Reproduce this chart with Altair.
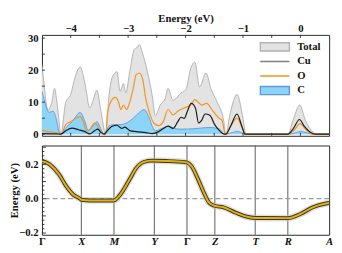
import altair as alt
import pandas as pd

FONT = "Liberation Serif"

# ---------------- DOS data (energy in eV, DOS in states/eV) ----------------
series_names = ["Total", "Cu", "O", "C"]

total_E = [-4.50, -4.465, -4.43, -4.39, -4.33, -4.28, -4.247, -4.214, -4.17,
           -4.085, -4.00, -3.918, -3.834, -3.751, -3.667, -3.612, -3.545, -3.473, -3.39,
           -3.333, -3.278, -3.194, -3.139, -3.082, -3.039, -2.972, -2.888, -2.848, -2.804,
           -2.747, -2.664, -2.58, -2.525, -2.441, -2.358, -2.303, -2.219, -2.079, -1.995,
           -1.911, -1.839, -1.756, -1.644, -1.56, -1.45, -1.338, -1.299,
           -1.226, -1.104, -1.003, -0.948,
           -0.222, -0.112, -0.012, 0.084, 0.222, 0.279, 0.50]
total_v = [21.5, 16, 10, 7.5, 10, 14.3, 11, 6, 0,
           10, 12.4, 18.1, 21, 15.8, 8.2, 10.5, 13.7, 7.2, 0,
           12, 17.7, 19.5, 13.4, 15.8, 12.9, 19.5, 26.6, 27, 27.9,
           25.2, 19.5, 12, 5.8, 9.1, 11, 14.3, 10.6, 12.9, 13.9,
           20.5, 22.5, 14.8, 19.1, 14.3, 10, 4.4, 0,
           6.3, 12.4, 5.3, 0,
           0, 5.3, 9.1, 4.4, 0.6, 0, 0]

cu_E = [-4.50, -4.25, -4.17,
        -4.085, -3.975, -3.863, -3.751, -3.667, -3.584, -3.528, -3.473, -3.416,
        -3.361, -3.278, -3.194, -3.11, -3.055, -2.972, -2.86, -2.692, -2.58, -2.47,
        -2.386, -2.303, -2.219, -2.135, -2.079, -2.023, -1.968, -1.901, -1.828, -1.773,
        -1.717, -1.661, -1.577, -1.493, -1.41, -1.326,
        -1.299, -1.216, -1.104, -1.02, -0.965,
        -0.222, -0.129, -0.017, 0.067, 0.179, 0.263, 0.50]
cu_v = [0.2, 0.1, 0,
        1.1, 1.9, 1.4, 0.8, 0.1, 1.1, 1.6, 0.6, 0,
        1.1, 2.5, 2.8, 1.8, 2.2, 1.1, 0.8, 0.5, 0.2, 0.8,
        1.8, 2.5, 1.8, 3.9, 5.3, 4.9, 7.2, 9.6, 8.2, 3.5,
        4.4, 6.3, 5.9, 3.0, 1.1, 0,
        0, 2.5, 6.3, 2.5, 0,
        0, 1.6, 4.6, 2.5, 0.5, 0, 0]

o_E = [-4.50, -4.40, -4.28, -4.214, -4.17,
       -4.085, -4.00, -3.918, -3.834, -3.779, -3.724, -3.667, -3.584, -3.528, -3.473, -3.39,
       -3.361, -3.306, -3.222, -3.166, -3.127, -3.082, -3.027, -2.972, -2.915, -2.86,
       -2.804, -2.747, -2.692, -2.637, -2.554, -2.47, -2.386, -2.303, -2.219, -2.135,
       -2.023, -1.911, -1.839, -1.756, -1.717, -1.634, -1.522, -1.41, -1.366, -1.309,
       -1.299, -1.216, -1.104, -1.003, -0.948,
       -0.222, -0.112, -0.012, 0.112, 0.222, 0.50]
o_v = [1.2, 0.8, 0.6, 0.3, 0,
       3.0, 3.9, 4.9, 5.5, 3.9, 1.1, 1.5, 3.5, 2.5, 0.4, 0,
       6.3, 10, 11.5, 10, 7.7, 9.1, 7.7, 10, 13.9, 18.6,
       19.1, 17.2, 11, 7.2, 3.5, 2.7, 4.0, 7.7, 6.0, 7.2,
       8.2, 9.1, 10.8, 9.6, 9.1, 9.6, 7.2, 4.9, 4.4, 0,
       0, 2.5, 5.0, 1.6, 0,
       0, 1.1, 3.3, 1.1, 0, 0]

c_E = [-4.50, -4.448, -4.376, -4.309, -4.253, -4.209, -4.17,
       -4.085, -3.975, -3.834, -3.751, -3.696, -3.612, -3.54, -3.473, -3.416,
       -3.333, -3.249, -3.139, -3.027, -2.915, -2.804, -2.721, -2.637, -2.58, -2.525,
       -2.413, -2.303, -2.135, -1.968, -1.744, -1.577, -1.41, -1.326,
       -1.187, -1.104, -0.992, -0.965,
       -0.222, -0.072, -0.005, 0.095, 0.22, 0.50]
c_v = [13.4, 10, 6.8, 7.2, 4.9, 1.1, 0,
       2.0, 3.9, 6.8, 3.9, 1.1, 2.5, 3.9, 1.6, 0,
       2.5, 3.0, 3.0, 3.5, 4.9, 6.8, 7.7, 5.3, 2.5, 1.1,
       1.8, 2.5, 1.6, 1.6, 1.9, 2.1, 1.6, 0,
       0.5, 0.9, 0.2, 0,
       0, 0.5, 0.9, 0.5, 0, 0]

energy_ticks = [-4, -3, -2, -1, 0]
energy_minor = [-4.0, -3.5, -3.0, -2.5, -2.0, -1.5, -1.0, -0.5, 0.0]
dos_ticks = [0, 10, 20, 30]
dos_minor = [0, 5, 10, 15, 20, 25, 30]

# ---------------- band data ----------------
k_pos = [0, 41, 75, 117, 151, 180, 222, 256, 299]
k_names = ["Γ", "X", "M", "Y", "Γ", "Z", "T", "R", "A"]

band_k = [0, 8, 18, 24.7, 33, 39.7, 41, 50, 75, 81, 91, 98, 106, 115, 129, 149, 151,
          155.7, 162, 169, 174, 179.7, 189, 202, 212, 222, 256, 269, 282, 295.7, 299]
band_E = [0.220, 0.200, 0.140, 0.078, 0.022, 0.000, -0.006, -0.010, -0.010, 0.020, 0.110,
          0.177, 0.214, 0.222, 0.220, 0.213, 0.211, 0.190, 0.120, 0.030, -0.023, -0.041,
          -0.050, -0.082, -0.103, -0.112, -0.113, -0.089, -0.050, -0.028, -0.025]

band_ticks = [-0.2, 0.0, 0.2]
band_major = [-0.2, -0.1, 0.0, 0.1, 0.2, 0.3]
band_minor = [-0.175, -0.15, -0.125, -0.075, -0.05, -0.025, 0.025, 0.05, 0.075,
              0.125, 0.15, 0.175, 0.225, 0.25, 0.275]

# ---------------- styles ----------------
W, H1, H2 = 296, 104, 92
GREY_FILL, GREY_LINE = "#e3e3e3", "#acacac"
BLUE_FILL, BLUE_LINE = "#8dd5f7", "#5f97e0"
ORANGE, BLACK = "#f5921e", "#1a1a1a"

xscale = alt.Scale(domain=[-4.5, 0.5], nice=False, zero=False)
yscale = alt.Scale(domain=[-0.5, 31], nice=False, zero=False)

xaxis_top = alt.Axis(orient="top", title="Energy (eV)", values=energy_ticks, format="d",
                     labelPadding=1, titleY=-23, titleBaseline="top")
yaxis_top = alt.Axis(title=None, values=dos_ticks, format="d", labelPadding=4)


def xT(f):
    return alt.X(f"{f}:Q", scale=xscale, axis=xaxis_top)


def yT(f):
    return alt.Y(f"{f}:Q", scale=yscale, axis=yaxis_top)


df_total = pd.DataFrame({"E": total_E, "v": total_v})
df_cu = pd.DataFrame({"E": cu_E, "v": cu_v})
df_o = pd.DataFrame({"E": o_E, "v": o_v})
df_c = pd.DataFrame({"E": c_E, "v": c_v})

total_area = alt.Chart(df_total).mark_area(
    color=GREY_FILL, opacity=1, interpolate="monotone", clip=True,
    line={"color": GREY_LINE, "strokeWidth": 0.9}
).encode(x=xT("E"), y=yT("v"))

c_area = alt.Chart(df_c).mark_area(
    color=BLUE_FILL, opacity=1, interpolate="monotone", clip=True,
    line={"color": BLUE_LINE, "strokeWidth": 0.9}
).encode(x=xT("E"), y=yT("v"))

o_line = alt.Chart(df_o).mark_line(color=ORANGE, strokeWidth=1.2, interpolate="monotone",
                                   clip=True).encode(x=xT("E"), y=yT("v"))
cu_line = alt.Chart(df_cu).mark_line(color=BLACK, strokeWidth=1.2, interpolate="monotone",
                                     clip=True).encode(x=xT("E"), y=yT("v"))

df_et = pd.DataFrame({"t": energy_minor})
top_ticks = alt.Chart(df_et).mark_rule(color="#333", strokeWidth=1).encode(
    x=xT("t"), y=alt.value(0), y2=alt.value(3))
bot_ticks = alt.Chart(df_et).mark_rule(color="#333", strokeWidth=1).encode(
    x=xT("t"), y=alt.value(H1), y2=alt.value(H1 - 3))
left_ticks = alt.Chart(pd.DataFrame({"t": dos_minor})).mark_rule(color="#333", strokeWidth=1).encode(
    y=yT("t"), x=alt.value(0), x2=alt.value(3))

legend = alt.Legend(title=None, orient="none", legendX=224, legendY=5, padding=0,
                    symbolSize=900, symbolStrokeWidth=1.5, symbolOpacity=1,
                    clipHeight=14.7, rowPadding=0, labelOffset=7)
df_leg = pd.DataFrame({"series": series_names, "E": [-2.0] * 4, "v": [10.0] * 4})
rect_path = "M-1,-0.28H1V0.28H-1Z"
line_path = "M-1,0H1"
legend_pts = alt.Chart(df_leg).mark_point(opacity=0).encode(
    x=xT("E"), y=yT("v"),
    fill=alt.Fill("series:N", scale=alt.Scale(domain=series_names,
                  range=[GREY_FILL, "transparent", "transparent", BLUE_FILL]), legend=legend),
    stroke=alt.Stroke("series:N", scale=alt.Scale(domain=series_names,
                      range=["#b3b3b3", "#808080", ORANGE, BLUE_LINE]), legend=legend),
    shape=alt.Shape("series:N", scale=alt.Scale(domain=series_names,
                    range=[rect_path, line_path, line_path, rect_path]), legend=legend),
)

top = alt.layer(total_area, c_area, o_line, cu_line, top_ticks, bot_ticks, left_ticks,
                legend_pts).properties(width=W, height=H1)

# ---------------- band panel ----------------
kscale = alt.Scale(domain=[0, 299], nice=False, zero=False)
escale = alt.Scale(domain=[-0.21, 0.31], nice=False, zero=False)

names_js = ",".join(f"'{n}'" for n in k_names)
pos_js = ",".join(str(p) for p in k_pos)
gamma_test = " || ".join(f"datum.value == {p}" for p, n in zip(k_pos, k_names) if n == "Γ")

kaxis = alt.Axis(title=None, values=k_pos, labelExpr=f"[{names_js}][indexof([{pos_js}], datum.value)]",
                 labelFlush=False, labelPadding=1,
                 labelFontStyle={"condition": {"test": gamma_test, "value": "normal"}, "value": "italic"})
eaxis = alt.Axis(title="Energy (eV)", values=band_ticks, format=".1f", labelPadding=4,
                 titleX=-34, titleY=H2 / 2, titleAngle=270, titleBaseline="top", titleAlign="center")


def xB(f):
    return alt.X(f"{f}:Q", scale=kscale, axis=kaxis)


def yB(f):
    return alt.Y(f"{f}:Q", scale=escale, axis=eaxis)


df_band = pd.DataFrame({"k": band_k, "E": band_E})
df_kl = pd.DataFrame({"k": k_pos[1:-1]})

k_lines = alt.Chart(df_kl).mark_rule(color="#5a5a5a", strokeWidth=1).encode(x=xB("k"))
zero_line = alt.Chart(pd.DataFrame({"e": [0.0]})).mark_rule(
    color="#9a9a9a", strokeDash=[5, 3], strokeWidth=1.3).encode(y=yB("e"))
halo = alt.Chart(df_band).mark_line(color="#c4c4c4", strokeWidth=7, opacity=0.55, clip=True,
                                     interpolate="monotone").encode(x=xB("k"), y=yB("E"))
dark = alt.Chart(df_band).mark_line(color="#3d3720", strokeWidth=4, clip=True,
                                     interpolate="monotone").encode(x=xB("k"), y=yB("E"))
gold = alt.Chart(df_band).mark_line(color="#e4b10e", strokeWidth=2, clip=True,
                                     interpolate="monotone").encode(x=xB("k"), y=yB("E"))
maj_ticks = alt.Chart(pd.DataFrame({"t": band_major})).mark_rule(color="#333", strokeWidth=1).encode(
    y=yB("t"), x=alt.value(0), x2=alt.value(4))
min_ticks = alt.Chart(pd.DataFrame({"t": band_minor})).mark_rule(color="#333", strokeWidth=1).encode(
    y=yB("t"), x=alt.value(0), x2=alt.value(2.5))

bottom = alt.layer(k_lines, zero_line, halo, dark, gold, maj_ticks, min_ticks).properties(
    width=W, height=H2)

chart = alt.vconcat(top, bottom, spacing=5).properties(padding=0).configure_view(
    stroke="#262626", strokeWidth=1
).configure_axis(
    labelFont=FONT, labelFontSize=11, labelFontWeight="bold", labelColor="#111",
    titleFont=FONT, titleFontSize=11, titleFontWeight="bold", titleColor="#111",
    grid=False, domain=False, ticks=False, tickSize=0
).configure_legend(
    labelFont=FONT, labelFontSize=11, labelFontWeight="bold", labelColor="#111"
)

chart.save("out.html", embed_options={"renderer": "svg", "actions": False})
